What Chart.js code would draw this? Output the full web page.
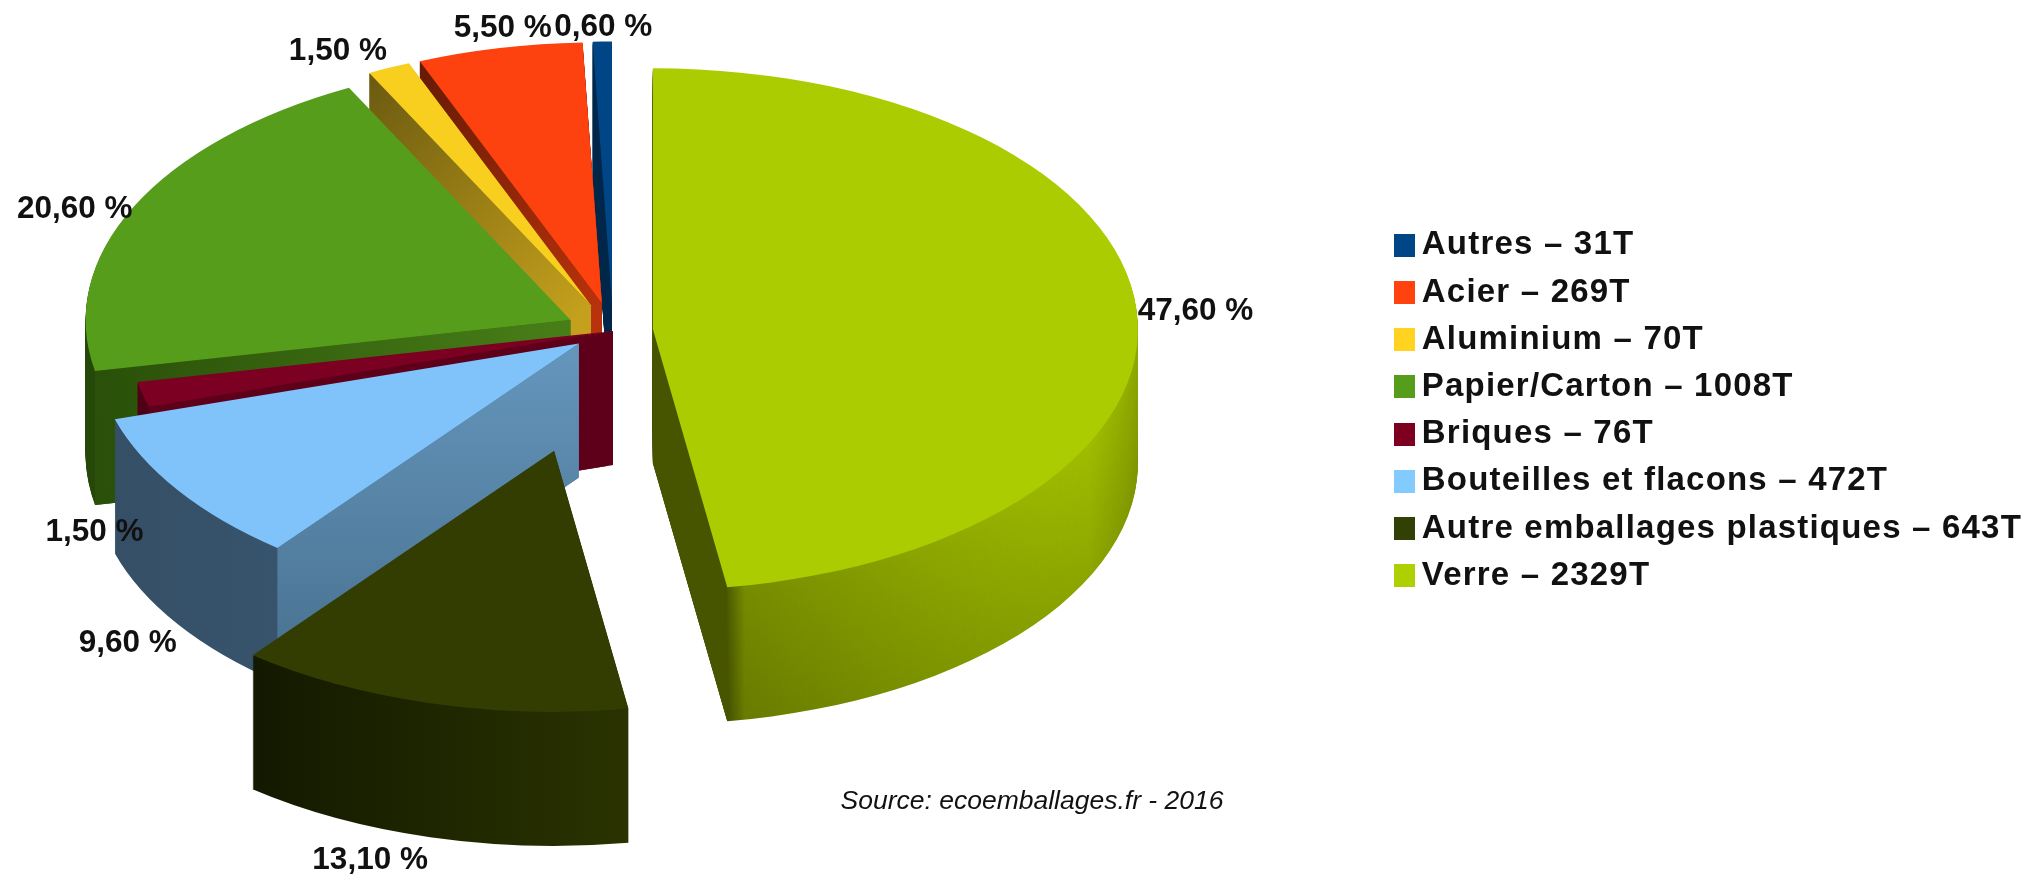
<!DOCTYPE html>
<html><head><meta charset="utf-8">
<style>html,body{margin:0;padding:0;background:#fff}#w{width:2026px;height:875px}</style>
<script src="https://cdn.jsdelivr.net/npm/chart.js@4"></script></head>
<body><div id="w"><canvas id="c" width="2026" height="875"></canvas></div>
<script>
const categories = ["Verre","Autre emballages plastiques","Bouteilles et flacons","Briques","Papier/Carton","Aluminium","Acier","Autres"];
const tonnes = [2329,643,472,76,1008,70,269,31];
const percentLabels = ["47,60 %","13,10 %","9,60 %","1,50 %","20,60 %","1,50 %","5,50 %","0,60 %"];
const topColors = ["#aacc00","#333d02","#80c3fb","#7b0022","#579d1c","#f8cf1f","#fd420f","#004586"];
const legendColors = ["#aecf00","#314004","#83caff","#7e0021","#579d1c","#ffd320","#ff420e","#004586"];
const sourceText = "Source: ecoemballages.fr - 2016";

/* drawing style, separate from the data */
const geom = {cx:613, cy:331, rx:485, ry:261, depth:134};
const explode = [0.0825,0.475,0.085,0,0.097,0.109,0.109,0.109];
const wallStops = [
 [[.15,"#4a5700"],[.19,"#778c00"],[.6,"#8fa900"],[.9,"#a0bc00"],[1,"#8fa800"]],
 [[0,"#131900"],[1,"#2a3300"]],
 [[0,"#344f66"],[1,"#38546c"]],
 [[0,"#4e0016"],[1,"#4e0016"]],
 [[0,"#254809"],[1,"#2b520a"]],
 [[0,"#6b5a10"],[1,"#7a6410"]],
 [[0,"#651a05"],[1,"#7a2006"]],
 [[0,"#00264a"],[1,"#00264a"]]
];
const wallShade = [0.12,0,0,0,0,0,0,0];
const faceFrom = ["#475400",null,"#6596bc","#5e001a","#2a5009","#6b5a10","#651a05","#00264a"];
const faceTo   = ["#475400",null,"#47708f","#5e001a","#487f18","#c4a01c","#b8320b","#00264a"];
const faceVertical = [false,false,true,false,false,false,false,false];
const labelNudge = [[59,2],[-60,157],[-50,153],[-48,138],[-59,3],[-51,-17],[3,-20],[1,-14]];
const FONT = "'Liberation Sans', Arial, sans-serif";
const TEXT = "#111111";
const sourcePos = {x:1032, y:802};
const legendSpacing = "1.2px";
const legendShift = 6;

const baseArcOpts = {borderWidth:0,borderColor:"transparent",borderAlign:"center",borderRadius:0,offset:0,spacing:0,circular:true,borderJoinStyle:"round",borderDash:[],borderDashOffset:0,selfJoin:false};

function swatch(color){
  const s=document.createElement("canvas"); s.width=21; s.height=23;
  const x=s.getContext("2d"); x.fillStyle=color; x.fillRect(0,0,21,23); return s;
}
const swatches = legendColors.map(swatch);

function paintArc(ctx, arc, fill){
  const saved = arc.options;
  arc.options = Object.assign({}, baseArcOpts, {backgroundColor:fill});
  arc.draw(ctx);
  arc.options = saved;
}

const pie3d = {
  id:"pie3d",
  beforeUpdate(chart){ chart.ctx.letterSpacing = legendSpacing; },
  afterLayout(chart){ chart.legend.left += legendShift; chart.legend.right += legendShift; },
  beforeDatasetsDraw(chart){
    const ctx = chart.ctx, arcs = chart.getDatasetMeta(0).data;
    for(let i=arcs.length-1;i>=0;i--){
      const arc = arcs[i], R = arc.outerRadius;
      const sx = geom.rx/R, sy = geom.ry/R;
      const mid = (arc.startAngle+arc.endAngle)/2;
      const ex = Math.cos(mid)*explode[i]*geom.rx, ey = Math.sin(mid)*explode[i]*geom.ry;
      const ox = geom.cx+ex, oy = geom.cy+ey;
      const place = (h)=>{ctx.translate(ox,oy+h);ctx.scale(sx,sy);ctx.translate(-arc.x,-arc.y);};
      let lo=Math.min(Math.cos(arc.startAngle),Math.cos(arc.endAngle)), hi=Math.max(Math.cos(arc.startAngle),Math.cos(arc.endAngle));
      const has=(a)=>{for(let k=-2;k<=2;k++){const t=a+k*2*Math.PI;if(t>=arc.startAngle&&t<=arc.endAngle)return true;}return false;};
      if(has(0))hi=1; if(has(Math.PI))lo=-1;
      const g = ctx.createLinearGradient(arc.x+lo*R,0,arc.x+hi*R,0);
      wallStops[i].forEach(s=>g.addColorStop(s[0],s[1]));
      for(let h=geom.depth;h>=1;h--){
        ctx.save();place(h);paintArc(ctx,arc,g);
        if(wallShade[i]) paintArc(ctx,arc,"rgba(0,0,0,"+(wallShade[i]*h/geom.depth)+")");
        ctx.restore();
      }
      if(faceFrom[i]){
        const ang = Math.cos(arc.startAngle)<0 ? arc.startAngle : arc.endAngle;
        const E = {x:ox+Math.cos(ang)*geom.rx, y:oy+Math.sin(ang)*geom.ry};
        const fg = faceVertical[i] ? ctx.createLinearGradient(0,oy,0,E.y+geom.depth)
                                   : ctx.createLinearGradient(E.x,E.y,ox,oy);
        fg.addColorStop(0,faceFrom[i]); fg.addColorStop(1,faceTo[i]);
        ctx.save(); ctx.fillStyle=fg; ctx.beginPath();
        ctx.moveTo(ox,oy); ctx.lineTo(E.x,E.y); ctx.lineTo(E.x,E.y+geom.depth); ctx.lineTo(ox,oy+geom.depth); ctx.closePath(); ctx.fill(); ctx.restore();
      }
      ctx.save();place(0);paintArc(ctx,arc,topColors[i]);ctx.restore();
    }
    return false;
  },
  afterDraw(chart){
    const ctx = chart.ctx, arcs = chart.getDatasetMeta(0).data;
    ctx.save();
    ctx.letterSpacing="0px";
    ctx.fillStyle=TEXT; ctx.textAlign="center"; ctx.textBaseline="middle";
    ctx.font="bold 31.5px "+FONT;
    arcs.forEach((arc,i)=>{
      const mid=(arc.startAngle+arc.endAngle)/2, k=1+explode[i];
      ctx.fillText(percentLabels[i], geom.cx+Math.cos(mid)*k*geom.rx+labelNudge[i][0], geom.cy+Math.sin(mid)*k*geom.ry+labelNudge[i][1]);
    });
    ctx.font="italic 26.5px "+FONT;
    ctx.fillText(sourceText, sourcePos.x, sourcePos.y);
    ctx.restore();
  }
};

new Chart(document.getElementById("c"),{
  type:"pie",
  data:{labels:categories.map((c,i)=>c+" – "+tonnes[i]+"T"),
        datasets:[{data:tonnes,backgroundColor:legendColors,borderWidth:0}]},
  plugins:[pie3d],
  options:{
    responsive:false,animation:false,
    layout:{padding:{top:0,bottom:54,left:0,right:0}},
    plugins:{
      tooltip:{enabled:false},
      legend:{position:"right",reverse:true,
        labels:{font:{family:FONT,size:33,weight:"bold",lineHeight:1.2},color:TEXT,padding:14.2,
          usePointStyle:true,pointStyleWidth:1,
          generateLabels(chart){
            return chart.data.labels.map((t,i)=>({text:t,fillStyle:legendColors[i],strokeStyle:legendColors[i],lineWidth:0,pointStyle:swatches[i],hidden:false,index:i,fontColor:TEXT}));
          }}}
    }
  }
});
</script></body></html>
